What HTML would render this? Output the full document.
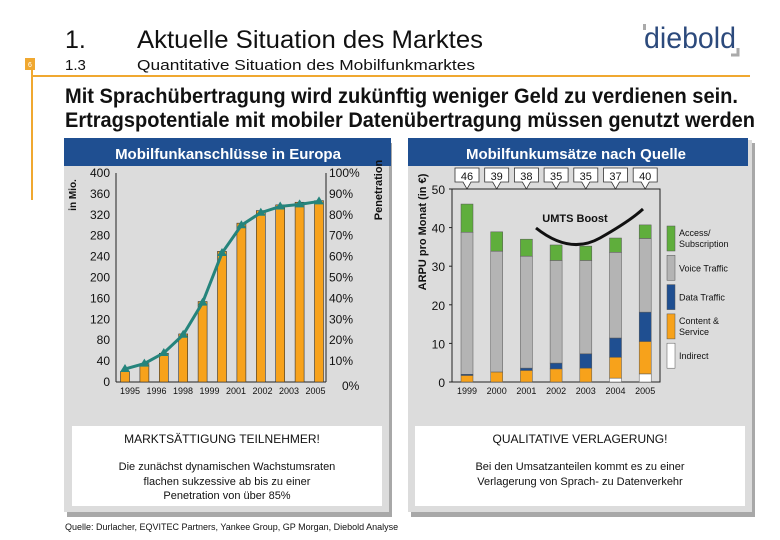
<!DOCTYPE html>
<html><head><meta charset="utf-8"><style>
body{margin:0;background:#fff}
svg{display:block;font-family:"Liberation Sans",sans-serif}
</style></head><body>
<svg width="780" height="540" viewBox="0 0 780 540">
<g>
<text x="65" y="48" font-size="25" fill="#111">1.</text>
<text x="137" y="48" font-size="25" fill="#111" textLength="346" lengthAdjust="spacingAndGlyphs">Aktuelle Situation des Marktes</text>
<text x="65" y="70" font-size="15" fill="#111">1.3</text>
<text x="137" y="70" font-size="15" fill="#111" textLength="338" lengthAdjust="spacingAndGlyphs">Quantitative Situation des Mobilfunkmarktes</text>
<rect x="25" y="58" width="10" height="12" fill="#f0a830"/>
<text x="30" y="67" font-size="7" fill="#fff" text-anchor="middle">6</text>
<line x1="32" y1="76" x2="750" y2="76" stroke="#f0a830" stroke-width="2"/>
<line x1="32" y1="70" x2="32" y2="200" stroke="#f0a830" stroke-width="2"/>
<text x="644" y="48" font-size="30" fill="#2c4a7c" textLength="92" lengthAdjust="spacingAndGlyphs">diebold</text>
<rect x="643" y="24" width="3" height="6" fill="#aaa"/>
<path d="M738 48 V55 H731" stroke="#aaa" stroke-width="3" fill="none"/>
<text x="65" y="103" font-size="21" font-weight="bold" fill="#111" textLength="673" lengthAdjust="spacingAndGlyphs">Mit Sprachübertragung wird zukünftig weniger Geld zu verdienen sein.</text>
<text x="65" y="127" font-size="21" font-weight="bold" fill="#111" textLength="690" lengthAdjust="spacingAndGlyphs">Ertragspotentiale mit mobiler Datenübertragung müssen genutzt werden</text>
</g>

<rect x="67" y="143" width="325" height="374" fill="#a8a8a8"/>
<rect x="64" y="140" width="325" height="372" fill="#dcdcdc"/>
<rect x="64" y="138" width="327" height="28" fill="#1f4f91"/>
<text x="228" y="159" font-size="15" font-weight="bold" fill="#fff" text-anchor="middle">Mobilfunkanschlüsse in Europa</text>
<rect x="411" y="143" width="344" height="374" fill="#a8a8a8"/>
<rect x="408" y="140" width="344" height="372" fill="#dcdcdc"/>
<rect x="408" y="138" width="340" height="28" fill="#1f4f91"/>
<text x="576" y="159" font-size="15" font-weight="bold" fill="#fff" text-anchor="middle">Mobilfunkumsätze nach Quelle</text>

<rect x="72" y="426" width="310" height="80" fill="#fff"/>
<text x="222" y="443" font-size="12" text-anchor="middle" fill="#111">MARKTSÄTTIGUNG TEILNEHMER!</text>
<text x="227" y="470" font-size="11" text-anchor="middle" fill="#111">Die zunächst dynamischen Wachstumsraten</text>
<text x="227" y="485" font-size="11" text-anchor="middle" fill="#111">flachen sukzessive ab bis zu einer</text>
<text x="227" y="499" font-size="11" text-anchor="middle" fill="#111">Penetration von über 85%</text>
<rect x="415" y="426" width="330" height="80" fill="#fff"/>
<text x="580" y="443" font-size="12" text-anchor="middle" fill="#111">QUALITATIVE VERLAGERUNG!</text>
<text x="580" y="470" font-size="11" text-anchor="middle" fill="#111">Bei den Umsatzanteilen kommt es zu einer</text>
<text x="580" y="485" font-size="11" text-anchor="middle" fill="#111">Verlagerung von Sprach- zu Datenverkehr</text>
<text x="65" y="530" font-size="9" fill="#111">Quelle: Durlacher, EQVITEC Partners, Yankee Group, GP Morgan, Diebold Analyse</text>

<g id="left"></g>
<g id="right"></g>
</svg>
<script>
const leftYears = ['1995','1996','1997','1998','1999','2000','2001','2002','2003','2004','2005'];
const leftSubs = [20,35,55,92,154,250,304,328,339,344,347];
const leftPen = [6.2,8.8,13.9,22.6,38,61.7,75,81,84,85,86.4];
const leftXLabels = ['1995','1996','1998','1999','2001','2002','2003','2005'];
const leftYTicks = [0,40,80,120,160,200,240,280,320,360,400];
const leftPTicks = ['0%','10%','20%','30%','40%','50%','60%','70%','80%','90%','100%'];

const rightYears = ['1999','2000','2001','2002','2003','2004','2005'];
const rightIndirect = [0,0,0,0,0,1.0,2.1];
const rightContent = [1.7,2.6,3.0,3.4,3.6,5.4,8.4];
const rightData = [0.3,0,0.6,1.5,3.7,5.0,7.6];
const rightVoice = [36.8,31.3,29.0,26.6,24.2,22.2,19.1];
const rightAccess = [7.3,5.0,4.4,4.0,3.7,3.7,3.5];
const rightArpu = ['46','39','38','35','35','37','40'];
const rightYTicks = [0,10,20,30,40,50];
const legendLabels = [['Access/','Subscription'],['Voice Traffic'],['Data Traffic'],['Content &','Service'],['Indirect']];

const NS='http://www.w3.org/2000/svg';
function mk(parent,tag,attrs,txt){const e=document.createElementNS(NS,tag);for(const k in attrs)e.setAttribute(k,attrs[k]);if(txt!==undefined)e.textContent=txt;parent.appendChild(e);return e;}

const L=document.getElementById('left');
const lx0=116,lx1=326,ly0=382,ly1=173;
const ly=v=>ly0-v/400*(ly0-ly1);
const lp=p=>ly0-p/100*(ly0-ly1);
const lbx=i=>125+i*(194/(leftYears.length-1));
let e;
e=mk(L,'line',{x1:lx0,y1:ly1,x2:lx0,y2:ly0,stroke:'#222'});


e=mk(L,'line',{x1:lx1,y1:ly1,x2:lx1,y2:ly0,stroke:'#222'});


e=mk(L,'line',{x1:lx0,y1:ly0,x2:lx1,y2:ly0,stroke:'#222'});


leftYTicks.forEach(v=>{
  e=mk(L,'text',{x:110,y:ly(v)+4,'font-size':12,'text-anchor':'end',fill:'#111'},String(v));
  
  
});
leftPTicks.forEach((t,i)=>{
  e=mk(L,'text',{x:i===0?342:329,y:lp(i*10)+(i===0?8:4),'font-size':12,fill:'#111'},t);
  
  
});
leftSubs.forEach((v,i)=>{
  e=mk(L,'rect',{x:lbx(i)-4.5,y:ly(v),width:9,height:ly0-ly(v),fill:'#f7a21b',stroke:'#333','stroke-width':0.6});
  
  
});
e=mk(L,'polyline',{points:leftPen.map((p,i)=>lbx(i)+','+lp(p)).join(' '),fill:'none',stroke:'#25847c','stroke-width':3});


leftPen.forEach((p,i)=>{
  const x=lbx(i),y=lp(p);
  e=mk(L,'polygon',{points:`${x},${y-5} ${x-5},${y+3} ${x+5},${y+3}`,fill:'#25847c'});
  
  
});
leftXLabels.forEach((t,i)=>{
  e=mk(L,'text',{x:130+i*26.5,y:394,'font-size':9,'text-anchor':'middle',fill:'#111'},t);
  
  
});
e=mk(L,'text',{transform:'translate(76,195) rotate(-90)','font-size':10,'font-weight':'bold','text-anchor':'middle',fill:'#111'},'in Mio.');


e=mk(L,'text',{transform:'translate(382,190) rotate(-90)','font-size':11,'font-weight':'bold','text-anchor':'middle',fill:'#111'},'Penetration');



const R=document.getElementById('right');
const rx0=452,rx1=660,ry0=382,ry1=189;
const ry=v=>ry0-v/50*(ry0-ry1);
const rbx=i=>467+i*29.7;
e=mk(R,'rect',{x:rx0,y:ry1,width:rx1-rx0,height:ry0-ry1,fill:'#dcdcdc',stroke:'#222'});


rightYTicks.forEach(v=>{
  e=mk(R,'text',{x:445,y:ry(v)+5,'font-size':12,'text-anchor':'end',fill:'#111'},String(v));
  
  
  mk(R,'line',{x1:rx0-3,y1:ry(v),x2:rx0,y2:ry(v),stroke:'#222'});
});
const series=[['indirect',rightIndirect,'#ffffff'],['content',rightContent,'#f7a21b'],['data',rightData,'#1f4f91'],['voice',rightVoice,'#b4b4b4'],['access',rightAccess,'#5fae3c']];
rightYears.forEach((yr,i)=>{
  let base=0;
  series.forEach(([nm,arr,col])=>{
    const v=arr[i];
    if(v>0){
      e=mk(R,'rect',{x:rbx(i)-6,y:ry(base+v),width:12,height:ry(base)-ry(base+v),fill:col,stroke:'#555','stroke-width':0.5});
      
      
    }
    base+=v;
  });
  e=mk(R,'text',{x:rbx(i),y:394,'font-size':9,'text-anchor':'middle',fill:'#111'},yr);
  
  
  const cx=rbx(i);
  e=mk(R,'path',{d:`M${cx-12},168 H${cx+12} V182 H${cx+4} L${cx},189 L${cx-4},182 H${cx-12} Z`,fill:'#fff',stroke:'#333','stroke-width':0.8});
  
  
  e=mk(R,'text',{x:cx,y:180,'font-size':11,'text-anchor':'middle',fill:'#111'},rightArpu[i]);
  
  
});
e=mk(R,'text',{x:575,y:222,'font-size':11,'font-weight':'bold','text-anchor':'middle',fill:'#111'},'UMTS Boost');


e=mk(R,'path',{d:'M536,228 Q570,255 600,238 T643,209',fill:'none',stroke:'#111','stroke-width':3});


e=mk(R,'text',{transform:'translate(426,232) rotate(-90)','font-size':11,'font-weight':'bold','text-anchor':'middle',fill:'#111'},'ARPU pro Monat (in €)');


const legCols=['#5fae3c','#b4b4b4','#1f4f91','#f7a21b','#ffffff'];
legendLabels.forEach((lines,i)=>{
  const y=226+i*29.3;
  e=mk(R,'rect',{x:667,y:y,width:8,height:25,fill:legCols[i],stroke:'#555','stroke-width':0.5});
  
  
  lines.forEach((t,j)=>{
    const ty=lines.length===1?y+16:y+10+j*11;
    e=mk(R,'text',{x:679,y:ty,'font-size':9,fill:'#111'},t);
    
    
  });
});
</script>
</body></html>
